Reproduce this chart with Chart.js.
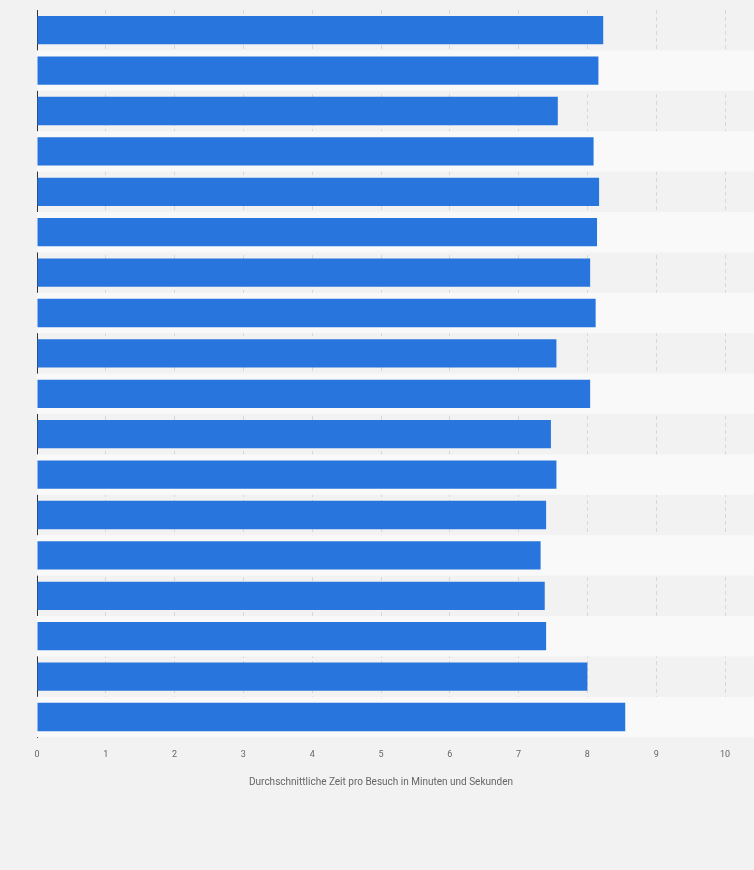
<!DOCTYPE html>
<html><head><meta charset="utf-8">
<script src="https://cdn.jsdelivr.net/npm/chart.js@4/dist/chart.umd.min.js"></script>
<style>html,body{margin:0;padding:0;background:#f2f2f2}#w{width:754px;height:870px}</style>
</head><body><div id="w"><canvas id="c"></canvas></div>
<script>
const categories = ["1","2","3","4","5","6","7","8","9","10","11","12","13","14","15","16","17","18"];
const values = [8.23,8.16,7.57,8.09,8.17,8.14,8.04,8.12,7.55,8.04,7.47,7.55,7.40,7.32,7.38,7.40,8.00,8.55];
const xTicks = [0,1,2,3,4,5,6,7,8,9,10];
const axisTitle = "Durchschnittliche Zeit pro Besuch in Minuten und Sekunden";

const bands = {
  id:'bands',
  beforeDatasetsDraw(chart){
    const {ctx, chartArea:a, scales:{y}} = chart;
    const step = (a.bottom-a.top)/categories.length;
    ctx.save();
    categories.forEach((c,i)=>{
      if(i%2===1){
        const yc = y.getPixelForValue(i);
        ctx.fillStyle='#f9f9f9';
        ctx.fillRect(a.left, yc-step/2, a.right-a.left+30, step);
      }
    });
    ctx.restore();
  }
};
new Chart(document.getElementById('c'),{
  type:'bar',
  data:{labels:categories,datasets:[{data:values,backgroundColor:'#2876dd',barPercentage:0.7,categoryPercentage:1}]},
  options:{
    indexAxis:'y',responsive:true,maintainAspectRatio:false,animation:false,
    layout:{padding:{left:29,right:29,top:10,bottom:78}},
    plugins:{legend:{display:false},tooltip:{enabled:false}},
    scales:{
      x:{min:0,max:10,afterBuildTicks(s){s.ticks=xTicks.map(v=>({value:v}));},
        grid:{color:'#d8d8d8',drawTicks:false,tickLength:0},
        border:{display:false,dash:[4,3]},
        ticks:{color:'#666',font:{size:9,family:'Roboto'},padding:12},
        title:{display:true,text:axisTitle,color:'#666',font:{size:10,family:'Roboto'},padding:{top:4}}},
      y:{grid:{display:false},ticks:{display:false},border:{color:'#333',width:1}}
    }
  },
  plugins:[bands]
});
</script></body></html>
